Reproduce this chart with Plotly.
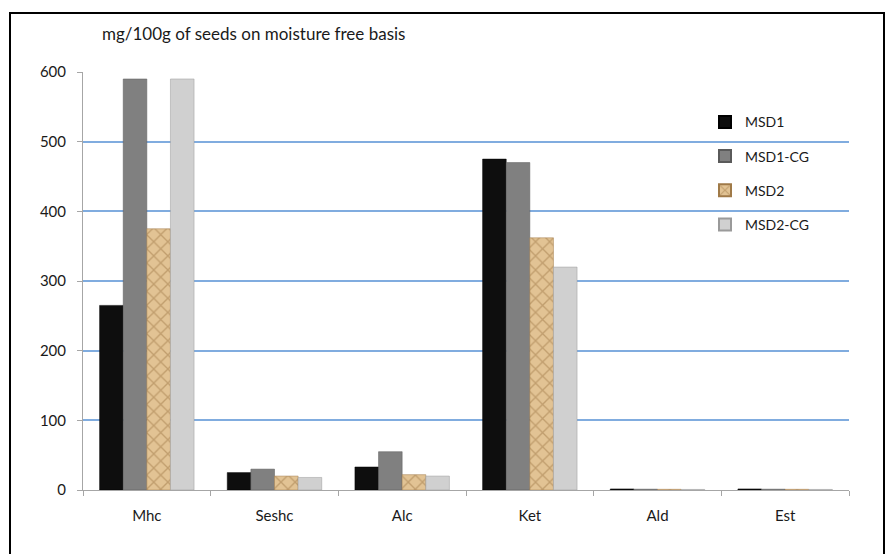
import plotly.graph_objects as go

categories = ["Mhc", "Seshc", "Alc", "Ket", "Ald", "Est"]
msd1 = [265, 25, 33, 475, 1.5, 1.5]
msd1_cg = [590, 30, 55, 470, 1.2, 1.2]
msd2 = [375, 20, 22, 362, 1.0, 1.0]
msd2_cg = [590, 18, 20, 320, 0.8, 0.8]
y_ticks = [0, 100, 200, 300, 400, 500, 600]

FONT = "Lato"
fig = go.Figure()
fig.add_bar(name="MSD1", x=categories, y=msd1, legendgroup="a",
            marker=dict(color="#0e0e0e", line=dict(color="#000000", width=0.5)))
fig.add_bar(name="MSD1-CG", x=categories, y=msd1_cg, legendgroup="b",
            marker=dict(color="#808080", line=dict(color="#5a5a5a", width=0.5)))
fig.add_bar(name="MSD2", x=categories, y=msd2, legendgroup="c",
            marker=dict(color="#e2c394",
                        pattern=dict(shape="x", fgcolor="#a07a48", bgcolor="#e2c394",
                                     size=10, solidity=0.25),
                        line=dict(color="#a07a48", width=0.5)))
fig.add_bar(name="MSD2-CG", x=categories, y=msd2_cg, legendgroup="d",
            marker=dict(color="#d0d0d0", line=dict(color="#9a9a9a", width=0.5)))

fig.update_layout(
    width=885, height=546,
    margin=dict(l=75, r=44, t=64, b=64),
    paper_bgcolor="white", plot_bgcolor="white",
    barmode="group", bargap=0.26, bargroupgap=0,
    font=dict(family=FONT, size=14, color="#1a1a1a"),
    showlegend=True,
    legend=dict(x=0.812, y=0.918, xanchor="left", yanchor="top",
                bgcolor="rgba(0,0,0,0)", font=dict(size=14),
                itemsizing="constant", tracegroupgap=13, itemwidth=30),
    xaxis=dict(showgrid=False, showline=True, linecolor="#a6a6a6", linewidth=1,
               ticks="outside", ticklen=5, tickcolor="#a6a6a6",
               tickson="boundaries", ticklabelstandoff=12,
               tickfont=dict(size=15)),
    yaxis=dict(range=[0, 600], tickvals=y_ticks, showgrid=True,
               gridcolor="#80acdf", gridwidth=1.5, showline=True,
               linecolor="#a6a6a6", ticks="outside", ticklen=5,
               tickcolor="#a6a6a6", zeroline=False, ticklabelstandoff=8,
               tickfont=dict(size=15)),
    shapes=[dict(type="rect", xref="paper", yref="paper",
                 x0=-0.0953, x1=1.0457, y0=-0.2, y1=1.141,
                 line=dict(color="black", width=2), layer="below")],
    annotations=[dict(text="mg/100g of seeds on moisture free basis",
                      xref="paper", yref="paper", x=0.022, y=1.093,
                      xanchor="left", yanchor="middle", showarrow=False,
                      font=dict(size=17, family=FONT, color="#1a1a1a"))],
)

fig.write_html("out.html")
